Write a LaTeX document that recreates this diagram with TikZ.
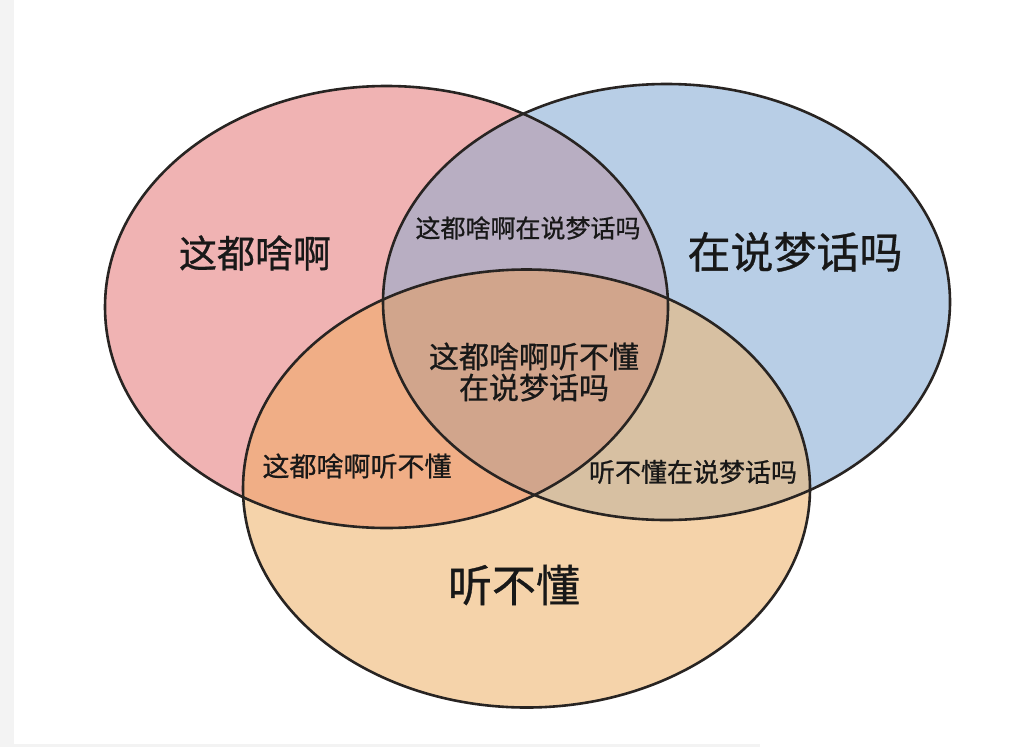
\documentclass[tikz,border=0pt]{standalone}
\usepackage{fontspec}
\newfontfamily\cjk[FakeBold=0.7]{Noto Sans CJK SC}
\definecolor{pinkc}{RGB}{240,179,179}
\definecolor{bluec}{RGB}{184,206,230}
\definecolor{orangec}{RGB}{245,211,170}
\definecolor{pbc}{RGB}{184,174,194}
\definecolor{poc}{RGB}{240,174,134}
\definecolor{boc}{RGB}{215,192,162}
\definecolor{allc}{RGB}{209,165,140}
\definecolor{edgec}{RGB}{40,36,34}
\definecolor{txtc}{RGB}{24,24,24}
\definecolor{stripc}{RGB}{243,243,243}
\tikzset{
  lbl/.style={text=txtc, inner sep=0pt, align=center, font=\cjk},
  outline/.style={draw=edgec, line width=2.6pt}
}
\newcommand{\pinkE}{(386.5,307) ellipse [x radius=281.5pt, y radius=221pt]}
\newcommand{\blueE}{(666.5,302) ellipse [x radius=283.5pt, y radius=218pt]}
\newcommand{\orangeE}{(526.5,488.5) ellipse [x radius=283.5pt, y radius=219pt]}
\begin{document}
\begin{tikzpicture}[x=1pt,y=-1pt]
\useasboundingbox (0,0) rectangle (1024,747);
\fill[white] (0,0) rectangle (1024,747);
\fill[stripc] (0,0) rectangle (14,747);
\fill[stripc] (0,744) rectangle (760,747);
% base fills
\fill[pinkc] \pinkE;
\fill[bluec] \blueE;
\fill[orangec] \orangeE;
\begin{scope}
  \clip \pinkE;
  \fill[pbc] \blueE;
  \fill[poc] \orangeE;
\end{scope}
\begin{scope}
  \clip \blueE;
  \fill[boc] \orangeE;
  \clip \pinkE;
  \fill[allc] \orangeE;
\end{scope}
% outlines
\draw[outline] \pinkE;
\draw[outline] \blueE;
\draw[outline] \orangeE;
% labels
\node[lbl, font=\cjk\fontsize{38}{40}\selectfont] (a) at (255,253) {这都啥啊};
\node[lbl, font=\cjk\fontsize{43}{45}\selectfont] (b) at (795,252) {在说梦话吗};
\node[lbl, font=\cjk\fontsize{44}{46}\selectfont] (c) at (514,585) {听不懂};
\node[lbl, font=\cjk\fontsize{25}{27}\selectfont] (ab) at (528,228) {这都啥啊在说梦话吗};
\node[lbl, font=\cjk\fontsize{30}{31}\selectfont] (abc) at (534,372) {这都啥啊听不懂\\在说梦话吗};
\node[lbl, font=\cjk\fontsize{27}{29}\selectfont] (ac) at (357,466) {这都啥啊听不懂};
\node[lbl, font=\cjk\fontsize{26}{28}\selectfont] (bc) at (693,472) {听不懂在说梦话吗};
\end{tikzpicture}
\end{document}
